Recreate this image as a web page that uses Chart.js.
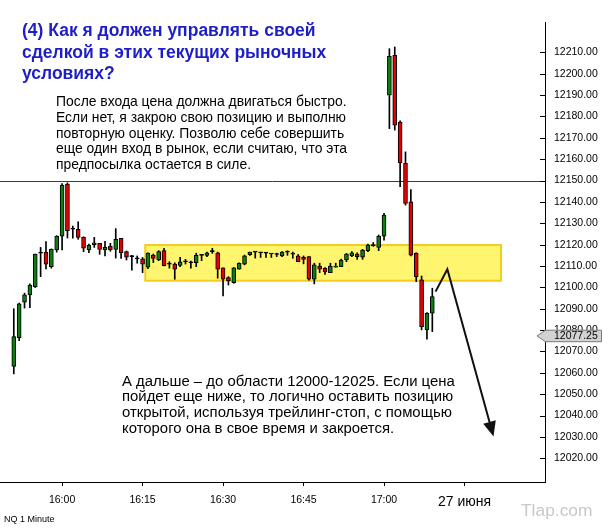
<!DOCTYPE html>
<html><head><meta charset="utf-8">
<script src="https://cdn.jsdelivr.net/npm/chart.js@4.4.1/dist/chart.umd.min.js"></script>
<style>
html,body{margin:0;padding:0;background:#fff;}
#wrap{position:relative;width:603px;height:529px;overflow:hidden;font-family:"Liberation Sans",Arial,sans-serif;}
#c{position:absolute;left:0;top:0;}
.t{position:absolute;white-space:nowrap;margin:0;}
#title{left:22px;top:20px;font-weight:bold;font-size:17.5px;line-height:21.5px;color:#1e1ec8;}
#p1{left:56px;top:94px;font-size:13.9px;line-height:15.8px;color:#000;}
#p2{left:122px;top:373.6px;font-size:14.9px;line-height:15.8px;color:#000;}
#nq{left:4px;top:515.4px;font-size:9px;line-height:1;color:#000;}
#wm{left:521px;top:502px;font-size:17.4px;line-height:1;color:#c8c8c8;}
</style></head>
<body>
<div id="wrap">
<canvas id="c" width="603" height="529"></canvas>
<div class="t" id="title">(4) Как я должен управлять своей<br>сделкой в этих текущих рыночных<br>условиях?</div>
<div class="t" id="p1">После входа цена должна двигаться быстро.<br>Если нет, я закрою свою позицию и выполню<br>повторную оценку. Позволю себе совершить<br>еще один вход в рынок, если считаю, что эта<br>предпосылка остается в силе.</div>
<div class="t" id="p2">А дальше – до области 12000-12025. Если цена<br>пойдет еще ниже, то логично оставить позицию<br>открытой, используя трейлинг-стоп, с помощью<br>которого она в свое время и закроется.</div>
<div class="t" id="nq">NQ 1 Minute</div>
<div class="t" id="wm">Tlap.com</div>
</div>
<script>
// ---- data ----
const times = ["15:51","15:52","15:53","15:54","15:55","15:56","15:57","15:58","15:59",
"16:00","16:01","16:02","16:03","16:04","16:05","16:06","16:07","16:08","16:09",
"16:10","16:11","16:12","16:13","16:14","16:15","16:16","16:17","16:18","16:19",
"16:20","16:21","16:22","16:23","16:24","16:25","16:26","16:27","16:28","16:29",
"16:30","16:31","16:32","16:33","16:34","16:35","16:36","16:37","16:38","16:39",
"16:40","16:41","16:42","16:43","16:44","16:45","16:46","16:47","16:48","16:49",
"16:50","16:51","16:52","16:53","16:54","16:55","16:56","16:57","16:58","16:59",
"17:00","17:01","17:02","17:03","17:04","17:05","17:06","17:07","17:08","17:09"];
const opens = [12063,12076.5,12093.1,12096.5,12100.3,12116,12116.5,12109.7,12117.5,
12124,12148.3,12127.2,12127.2,12123.4,12117.5,12120.9,12120.6,12117.5,12119.3,
12117.8,12123,12116.7,12114.4,12113.3,12113.3,12109.4,12115.1,12112.8,12117.2,
12110.8,12110.9,12110.3,12112,12111.5,12111.5,12115,12115,12116.7,12116.2,
12109.1,12104.6,12102.2,12108.5,12110.8,12115.3,12116.5,12116.2,12116,12115.6,
12115.4,12114.7,12116.5,12116,12114.7,12114,12114.4,12103.8,12110,12108.9,
12106.9,12109.4,12109.7,12112.8,12114.7,12115.6,12114.1,12117.2,12119.5,12118.7,
12124,12189.9,12208.6,12177.4,12158,12140,12115.9,12103.5,12080.1,12087.9];
const highs = [12090,12092.7,12097.3,12101.6,12115.6,12118.7,12121.4,12118,12124.2,
12148.6,12148.9,12128.7,12130.7,12123.7,12120.3,12123.4,12120.6,12121.5,12120.6,
12127.5,12123,12117,12115,12114.7,12114,12116.2,12115.6,12117.2,12118.3,
12112,12111.5,12114,12113.1,12112.3,12116,12115.3,12116.5,12118.3,12116.5,
12109.1,12105,12109.3,12111.5,12115.1,12116.5,12116.5,12116.2,12116.2,12115.6,
12116,12116.8,12117.1,12116.5,12115.4,12114.7,12114.4,12111.3,12111.3,12109.2,
12111.3,12111.3,12113.2,12115.9,12116.8,12116.2,12117.8,12120.3,12121,12124.5,
12134.6,12211.7,12212.5,12177.9,12163.4,12145.8,12116.2,12105.3,12088.2,12099.6];
const lows = [12059.5,12075,12090.3,12090.5,12099.9,12105,12108.6,12109,12116.5,
12117.5,12123.1,12123,12122.5,12116.7,12116.2,12118.7,12115.5,12114.7,12116.9,
12113.7,12113.6,12112.8,12108,12111.3,12106.9,12108.7,12111.6,12112.5,12110,
12109,12103.8,12109.7,12110.9,12109,12109.7,12112.5,12114.4,12115.9,12104.3,
12096,12101.1,12101.9,12108.5,12110.5,12115,12113.7,12114,12114,12114,
12114.4,12114.4,12115,12113.6,12112,12111,12103.4,12101.6,12106.9,12106.1,
12106.9,12109.4,12109.7,12112,12114.4,12113.1,12113.1,12116.7,12119.2,12117.2,
12122.1,12174.3,12173.6,12147.1,12138.5,12114.7,12102.7,12080.1,12075.8,12079.3];
const closes = [12077,12092.3,12096.5,12101.1,12115.6,12116,12110.8,12117.8,12124,
12147.9,12126.5,12127.2,12123.4,12118.3,12119.7,12120,12117.8,12118.7,12117.5,
12122.5,12116.2,12114.1,12114.4,12113.3,12110.8,12116,12113.6,12116.7,12110.2,
12110.8,12108.5,12111.9,12112,12111.5,12115,12115,12116.2,12116.7,12108.5,
12103.8,12103.1,12109.1,12111.3,12114.7,12116.5,12116.5,12116.2,12116,12115.6,
12115.4,12116.5,12116.5,12115.5,12112,12113.1,12103.8,12110.5,12108.5,12107.2,
12110,12110,12112.8,12115.6,12116.2,12114.4,12117.5,12119.8,12119.5,12124,
12133.8,12208.1,12175.9,12158.3,12139.3,12115.1,12105,12081.6,12087.9,12095.7];
const timeTickValues = ["16:00","16:15","16:30","16:45","17:00","17:15"];
const timeTickLabels = ["16:00","16:15","16:30","16:45","17:00","27 июня"];
const priceTicks = [12020,12030,12040,12050,12060,12070,12080,12090,12100,12110,
12120,12130,12140,12150,12160,12170,12180,12190,12200,12210];
const zonePrices = [12103.1, 12119.8];
const zoneTimes = [15.5, 81.8];          // minutes after 16:00
const levelPrice = 12150;
const lastPrice = 12077.25;
const arrowTimes = [69.6, 71.8, 80.4];   // minutes after 16:00
const arrowPrices = [12098, 12108.5, 12030.2];

// ---- helpers ----
const toMin = t => { const [h, m] = t.split(":").map(Number); return h * 60 + m - 960; };
const bodyColor = i => closes[i] > opens[i] ? "#0c7d12" : (closes[i] < opens[i] ? "#e30000" : "#000");

const overlay = {
  id: "overlay",
  beforeDatasetsDraw(chart) {
    const { ctx, chartArea: a, scales: { x, y } } = chart;
    ctx.save();
    const zx0 = x.getPixelForValue(zoneTimes[0]), zx1 = x.getPixelForValue(zoneTimes[1]);
    const zy0 = y.getPixelForValue(zonePrices[1]), zy1 = y.getPixelForValue(zonePrices[0]);
    ctx.fillStyle = "#fff56e";
    ctx.fillRect(zx0, zy0, zx1 - zx0, zy1 - zy0);
    ctx.strokeStyle = "#f3cd1e";
    ctx.lineWidth = 2;
    ctx.strokeRect(zx0, zy0, zx1 - zx0, zy1 - zy0);
    const ly = Math.round(y.getPixelForValue(levelPrice)) + 0.5;
    ctx.strokeStyle = "#c80000";
    ctx.lineWidth = 1;
    ctx.beginPath(); ctx.moveTo(a.left, ly); ctx.lineTo(a.right, ly); ctx.stroke();
    ctx.restore();
  },
  afterDatasetsDraw(chart) {
    const { ctx, scales: { x, y } } = chart;
    ctx.save();
    const pts = arrowTimes.map((t, i) => [x.getPixelForValue(t), y.getPixelForValue(arrowPrices[i])]);
    const [px, py] = pts[1], [tx, ty] = pts[2];
    const ang = Math.atan2(ty - py, tx - px);
    const hl = 15, hw = 6.5;
    const bx = tx - hl * Math.cos(ang), by = ty - hl * Math.sin(ang);
    ctx.strokeStyle = "#111"; ctx.lineWidth = 2; ctx.lineJoin = "miter";
    ctx.beginPath(); ctx.moveTo(pts[0][0], pts[0][1]); ctx.lineTo(px, py); ctx.lineTo(bx, by); ctx.stroke();
    ctx.fillStyle = "#111";
    ctx.beginPath();
    ctx.moveTo(tx, ty);
    ctx.lineTo(bx + hw * Math.sin(ang), by - hw * Math.cos(ang));
    ctx.lineTo(bx - hw * Math.sin(ang), by + hw * Math.cos(ang));
    ctx.closePath(); ctx.fill();
    ctx.restore();
  },
  afterDraw(chart) {
    const { ctx, chartArea: a, scales: { y } } = chart;
    ctx.save();
    ctx.strokeStyle = "#000"; ctx.lineWidth = 1;
    y.ticks.forEach(t => {
      const py = Math.round(y.getPixelForValue(t.value)) + 0.5;
      ctx.beginPath(); ctx.moveTo(a.right - 5, py); ctx.lineTo(a.right, py); ctx.stroke();
    });
    const cy = y.getPixelForValue(lastPrice);
    const h = 11.5, l = a.right - 8, r = 601.5, bl = a.right + 0.5;
    ctx.beginPath();
    ctx.moveTo(l, cy); ctx.lineTo(bl, cy - h / 2); ctx.lineTo(r, cy - h / 2);
    ctx.lineTo(r, cy + h / 2); ctx.lineTo(bl, cy + h / 2); ctx.closePath();
    ctx.fillStyle = "#d2d2d2"; ctx.fill();
    ctx.strokeStyle = "#7a7a7a"; ctx.stroke();
    ctx.fillStyle = "#000";
    ctx.font = "10.5px 'Liberation Sans', Arial, sans-serif";
    ctx.textBaseline = "middle"; ctx.textAlign = "left";
    ctx.fillText(lastPrice.toFixed(2), a.right + 9, cy + 0.5);
    ctx.restore();
  }
};

const xs = times.map(toMin);
new Chart(document.getElementById("c"), {
  type: "bar",
  data: {
    datasets: [
      {
        label: "wicks",
        data: xs.map((v, i) => ({ x: v, y: [lows[i], highs[i]] })),
        backgroundColor: "#000",
        borderWidth: 0,
        barThickness: 1,
        grouped: false,
        order: 2
      },
      {
        label: "bodies",
        data: xs.map((v, i) => ({ x: v, y: [opens[i], closes[i]] })),
        backgroundColor: xs.map((v, i) => bodyColor(i)),
        borderColor: "#000",
        borderWidth: 1,
        borderSkipped: false,
        barThickness: 4,
        minBarLength: 1,
        grouped: false,
        order: 1
      }
    ]
  },
  options: {
    responsive: false,
    animation: false,
    events: [],
    layout: { padding: { top: 22, left: 0, right: 0, bottom: 0 } },
    plugins: { legend: { display: false }, tooltip: { enabled: false } },
    scales: {
      x: {
        type: "linear",
        position: "bottom",
        offset: false,
        min: -11.57,
        max: 90,
        afterBuildTicks: s => { s.ticks = timeTickValues.map(t => ({ value: toMin(t) })); },
        afterFit: s => { s.height = 47; },
        ticks: {
          autoSkip: false, maxRotation: 0, color: "#000", padding: 8,
          callback: v => timeTickLabels[timeTickValues.map(toMin).indexOf(v)],
          font: c => ({ family: "'Liberation Sans', Arial, sans-serif", size: (c.tick && c.tick.value === 75) ? 14 : 10.5 })
        },
        grid: { offset: false, drawOnChartArea: false, drawTicks: true, tickLength: 4, color: "#000" },
        border: { color: "#000", width: 1 }
      },
      y: {
        type: "linear",
        position: "right",
        min: 12008.9,
        max: 12224.2,
        afterBuildTicks: s => { s.ticks = priceTicks.map(v => ({ value: v })); },
        afterFit: s => { s.width = 58; },
        ticks: {
          color: "#000", padding: 9,
          callback: v => Number(v).toFixed(2),
          font: { family: "'Liberation Sans', Arial, sans-serif", size: 10.5 }
        },
        grid: { drawOnChartArea: false, drawTicks: false },
        border: { color: "#000", width: 1 }
      }
    }
  },
  plugins: [overlay]
});
</script>
</body></html>
